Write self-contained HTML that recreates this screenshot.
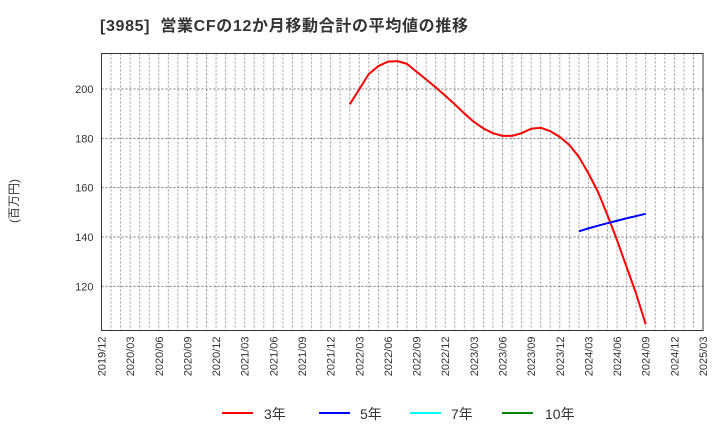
<!DOCTYPE html>
<html><head><meta charset="utf-8"><style>
body{margin:0;background:#fff;font-family:"Liberation Sans","Noto Sans CJK JP",sans-serif}
svg text{font-family:"Liberation Sans","Noto Sans CJK JP",sans-serif}
</style></head><body>
<svg id="c" width="720" height="440" xmlns="http://www.w3.org/2000/svg">
<text x="100" y="31" font-size="16" font-weight="bold" fill="#333" textLength="368" lengthAdjust="spacing" xml:space="preserve">[3985]  営業CFの12か月移動合計の平均値の推移</text>
<text transform="translate(18,201) rotate(-90)" text-anchor="middle" font-size="12" fill="#333">(百万円)</text>
<g id="grid"></g><g id="axes"></g><g id="series"></g>
<g>
<g><line x1="222" y1="413" x2="253" y2="413" stroke="#f00" stroke-width="2"/><text x="264" y="419" font-size="14" fill="#333">3年</text></g>
<g><line x1="319" y1="413" x2="350" y2="413" stroke="#00f" stroke-width="2"/><text x="360" y="419" font-size="14" fill="#333">5年</text></g>
<g><line x1="410" y1="413" x2="441" y2="413" stroke="#0ff" stroke-width="2"/><text x="451" y="419" font-size="14" fill="#333">7年</text></g>
<g><line x1="502" y1="413" x2="533" y2="413" stroke="#080" stroke-width="2"/><text x="545" y="419" font-size="14" fill="#333">10年</text></g>
</g>
</svg>
<script>
const xLabels=["2019/12","2020/03","2020/06","2020/09","2020/12","2021/03","2021/06","2021/09","2021/12","2022/03","2022/06","2022/09","2022/12","2023/03","2023/06","2023/09","2023/12","2024/03","2024/06","2024/09","2024/12","2025/03"];
const yTicks=[120,140,160,180,200];
const start3=26;
const s3=[193.8,199.9,206.1,209.3,211.1,211.3,210.2,207,203.9,200.7,197.3,193.8,190.1,186.7,184,182.1,181,181,182.1,183.9,184.3,182.9,180.6,177.3,172.5,165.8,158.3,148.8,138.7,127.8,117,104.6];
const start5=50;
const s5=[142.3,143.5,144.6,145.6,146.6,147.6,148.5,149.4];
const L=101.5,R=703,T=53.5,B=330.5,nM=63,vMin=102.1,vMax=214.4;
const X=m=>L+m*(R-L)/nM, Y=v=>B-(v-vMin)*(B-T)/(vMax-vMin);
const NS="http://www.w3.org/2000/svg";
function mk(p,t,a){const e=document.createElementNS(NS,t);for(const k in a)e.setAttribute(k,a[k]);p.appendChild(e);return e;}
const grid=document.getElementById('grid'),axes=document.getElementById('axes'),ser=document.getElementById('series');
for(let m=1;m<nM;m++){const l=mk(grid,'line',{x1:X(m),x2:X(m),y1:T,y2:B,stroke:'#999','stroke-dasharray':'2,2'});

}
yTicks.forEach(v=>{const l=mk(grid,'line',{x1:L,x2:R,y1:Y(v),y2:Y(v),stroke:'#777','stroke-dasharray':'2,2'});


const t=mk(axes,'text',{x:L-8,y:Y(v)+4,'text-anchor':'end','font-size':11,fill:'#333'});t.textContent=v;

});
const fr=mk(axes,'rect',{x:L,y:T,width:R-L,height:B-T,fill:'none',stroke:'#333'});


xLabels.forEach((s,i)=>{const x=X(i*3);const t=mk(axes,'text',{transform:`translate(${x+4},${B+6}) rotate(-90)`,'text-anchor':'end','font-size':11,fill:'#333'});t.textContent=s;

});
function line(d,s0,c,n){const p=mk(ser,'polyline',{points:d.map((v,i)=>X(s0+i)+','+Y(v)).join(' '),fill:'none',stroke:c,'stroke-width':2,'stroke-linejoin':'round'});

}
line(s3,start3,'#f00','series-3y');
line(s5,start5,'#00f','series-5y');
</script>
</body></html>
